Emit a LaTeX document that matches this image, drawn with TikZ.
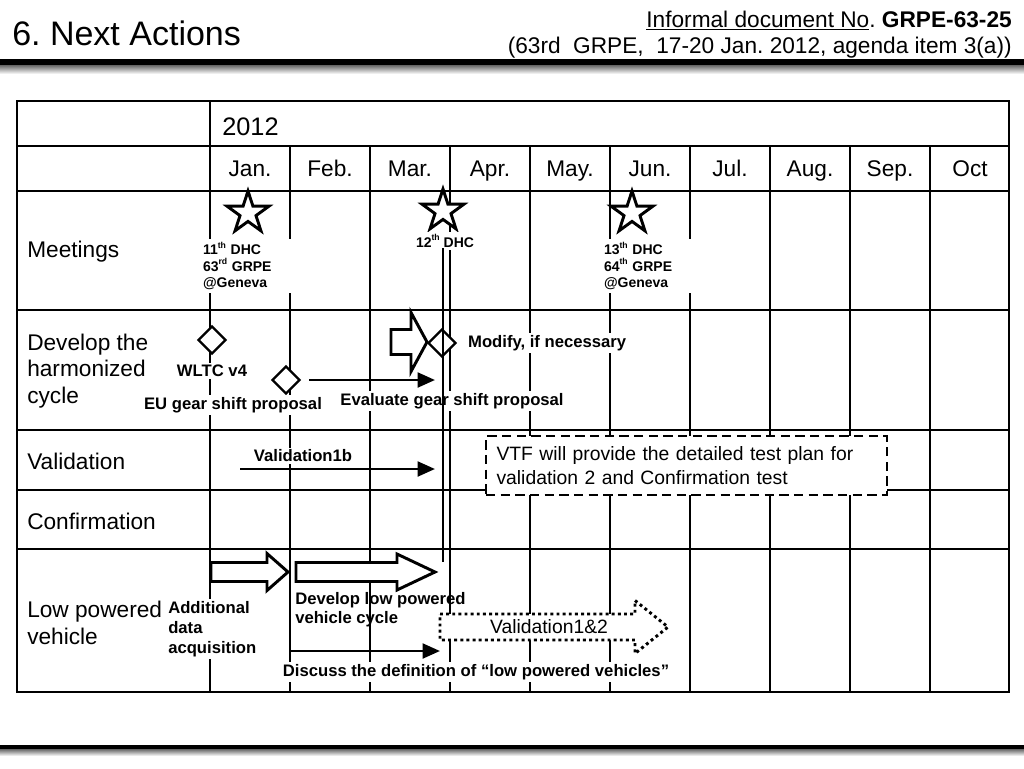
\documentclass[tikz,border=0pt]{standalone}
\usepackage{fontspec}
\setmainfont{Liberation Sans}
\frenchspacing
\usetikzlibrary{positioning,shapes.geometric,arrows.meta}
\definecolor{shadeclr}{rgb}{0.40, 0.40, 0.40}
\newcommand\ttlsz{\fontsize{25.5}{30}\selectfont}
\newcommand\hdsz{\fontsize{17}{20}\selectfont}
\newcommand\bodysz{\fontsize{17}{20}\selectfont}
\newcommand\vtfsz{\fontsize{14.5}{17.5}\selectfont}
\newcommand\notesz{\fontsize{12.5}{15}\selectfont}
\newcommand\meetsz{\fontsize{10.5}{12.4}\selectfont}
\newcommand\sups[1]{\raisebox{0.9ex}{\fontsize{6.5}{7}\selectfont #1}}
\newcommand\blkarrow[7]{\draw[#1] (#2,#4-#5) -- (#3-#7,#4-#5) -- (#3-#7,#4-#6) -- (#3,#4)
  -- (#3-#7,#4+#6) -- (#3-#7,#4+#5) -- (#2,#4+#5) -- cycle;}
\tikzset{ %
  ,>={Triangle[length=13pt,width=11pt]}
  ,rowlbl/.style={anchor=west, inner sep=0, font=\bodysz, align=left}
  ,month/.style={anchor=base, inner sep=0, font=\bodysz}
  ,note/.style={inner sep=1.5pt, fill=white, font=\notesz\bfseries, align=left}
  ,meet/.style={inner sep=2pt, fill=white, font=\meetsz\bfseries, align=left}
  ,mstar/.style={draw, star, star points=5, star point ratio=2.618, minimum size=33pt, inner sep=0, line width=2.2pt, fill=white}
  ,gate/.style={draw, diamond, minimum size=21pt, inner sep=0, line width=1.8pt, fill=white}
  ,flow/.style={->, line width=2.2pt}
  ,tline/.style={line width=0.8pt}
  ,blk/.style={draw, line width=2.2pt, fill=white, line join=miter}
  ,dotarr/.style={draw, line width=2.2pt, dash pattern=on 2.2pt off 2.4pt, fill=white}
  ,plan/.style={draw, dash pattern=on 7pt off 4pt, line width=1.8pt, fill=white}
}
\begin{document}
\begin{tikzpicture}[x=0.75pt, y=-0.75pt]
  \useasboundingbox (0,0) rectangle (1024,768);
  \node[anchor=base west, inner sep=0, font=\ttlsz] (ttl) at (12,45) {6. Next Actions};
  \node[anchor=base east, inner sep=0, font=\hdsz] (doc) at (1012,27) {\underline{Informal document No}. \textbf{GRPE-63-25}};
  \node[anchor=base east, inner sep=0, font=\hdsz] (ses) at (1012,53) {(63rd\ \ GRPE,\ \ 17-20 Jan. 2012, agenda item 3(a))};
  \fill (0,59) rectangle (1024,65);
  \shade[top color=shadeclr, bottom color=white] (0,65) rectangle (1024,74);
  \fill (0,745) rectangle (1024,749);
  \shade[top color=shadeclr, bottom color=white] (0,749) rectangle (1024,756);

  \foreach \y in {146,191,310,430,490,549} \draw[tline] (17,\y) -- (1009,\y);
  \draw[tline] (210,101) -- (210,692);
  \foreach \x in {290,370,...,930} \draw[tline] (\x,146) -- (\x,692);
  \draw[line width=2.2pt] (17,101) rectangle (1009,692);

  \node[anchor=base west, inner sep=0, font=\fontsize{19}{22}\selectfont] (yr) at (222,135) {2012};
  \foreach \m [count=\i] in {Jan.,Feb.,Mar.,Apr.,May.,Jun.,Jul.,Aug.,Sep.,Oct}
    \node[month] (mon\i) at (170+80*\i,176) {\m};

  \node[rowlbl] (rMeet) at (27,252) {Meetings};
  \node[rowlbl] (rDev) at (27,371) {Develop the\\harmonized\\cycle};
  \node[rowlbl] (rVal) at (27,461) {Validation};
  \node[rowlbl] (rConf) at (27,521) {Confirmation};
  \node[rowlbl] (rLow) at (27,623) {Low powered\\vehicle};

  \node[mstar] (s11) at (248,213) {};
  \node[mstar] (s12) at (443,211) {};
  \node[mstar] (s13) at (632,213) {};
  \node[meet, text width=66pt] (t11) at (247,266) {11\sups{th} DHC\\63\sups{rd} GRPE\\@Geneva};
  \node[meet] (t12) at (445,241) {12\sups{th} DHC};
  \node[meet, text width=66pt] (t13) at (648,266) {13\sups{th} DHC\\64\sups{th} GRPE\\@Geneva};

  \node[gate] (wltc) at (212,340) {};
  \node[gate] (eugs) at (286,380) {};
  \node[gate] (mod) at (442,343) {};
  \node[note] (wltcT) at (212,371) {WLTC v4};
  \node[note] (eugsT) at (233,405) {EU gear shift proposal};
  \node[note] (evalT) at (452,401) {Evaluate gear shift proposal};
  \node[note, right=6.5pt of mod] (modT) {Modify, if necessary};
  \blkarrow{blk}{391}{427}{342}{12.5}{29.5}{16}
  \coordinate[right=6pt of eugs] (evS);
  \coordinate (evE) at (435,380);
  \draw[flow] (evS) -- (evE);

  \node[note] (v1bT) at (303,456) {Validation1b};
  \coordinate (v1bS) at (240,469);
  \coordinate (v1bE) at (435,469);
  \draw[flow] (v1bS) -- (v1bE);
  \node[plan, minimum width=300pt, minimum height=44pt, text width=285pt, align=left, inner xsep=8pt, font=\vtfsz] (vtf) at (686.5,465.5) {VTF will provide the detailed test plan for\\validation 2 and Confirmation test};

  \blkarrow{blk}{211}{288}{572}{9.5}{18.5}{21}
  \blkarrow{blk}{296}{435}{572}{9.5}{18}{38}
  \node[note, fill=none, anchor=west, font=\fontsize{12.5}{14.25}\selectfont\bfseries] (dlpT) at (293,609.5) {Develop low powered\\vehicle cycle};
  \node[note, anchor=west] (adaT) at (166,629) {Additional\\data\\acquisition};
  \coordinate (dsS) at (289,651);
  \coordinate (dsE) at (440,651);
  \draw[flow] (dsS) -- (dsE);
  \node[note] (dsT) at (476,672) {Discuss the definition of “low powered vehicles”};
  \blkarrow{dotarr}{440}{668}{627}{13}{26.5}{33}
  \node[inner sep=0, font=\vtfsz] (v12T) at (549,627) {Validation1\&2};

  \draw[tline] (443,248) -- (443,562);
\end{tikzpicture}
\end{document}
